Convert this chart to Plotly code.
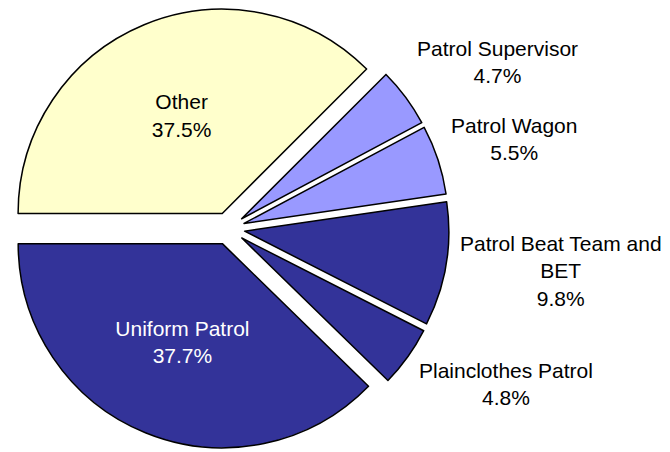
import math
import plotly.graph_objects as go

labels = ["Other", "Patrol Supervisor", "Patrol Wagon", "Patrol Beat Team and BET",
          "Plainclothes Patrol", "Uniform Patrol"]
display_labels = ["Other", "Patrol Supervisor", "Patrol Wagon", "Patrol Beat Team and<br>BET",
                  "Plainclothes Patrol", "Uniform Patrol"]
values = [37.5, 4.7, 5.5, 9.8, 4.8, 37.7]
colors = ["#FFFFCC", "#9999FF", "#9999FF", "#333399", "#333399", "#333399"]
inside = [True, False, False, False, False, True]
text_colors = ["black", "black", "black", "black", "black", "white"]

W, H = 670, 452
FONT = "Arial, Liberation Sans, sans-serif"
FS = 21
PULL = 0.08
ROT = -90  # first slice starts at 9 o'clock, clockwise

# pie box (figure pixels)
dom_x = [0, 441 / W]
dom_y = [11 / H, 1]
box_w = W * (dom_x[1] - dom_x[0])
box_h = H * (dom_y[1] - dom_y[0])
r = min(box_w, box_h) / 2 / (1 + PULL)
cx = W * (dom_x[0] + dom_x[1]) / 2
cy = H * (1 - (dom_y[0] + dom_y[1]) / 2)

total = sum(values)
pct_text = [f"{v / total * 100:.1f}%" for v in values]
slice_text = [f"{lab}<br>{p}" for lab, p in zip(display_labels, pct_text)]

fig = go.Figure(go.Pie(
    labels=labels,
    values=values,
    text=slice_text,
    textinfo="text",
    textposition=["inside" if i else "none" for i in inside],
    sort=False,
    direction="clockwise",
    rotation=ROT,
    pull=[PULL] * len(values),
    marker=dict(colors=colors, line=dict(color="black", width=1.5)),
    insidetextfont=dict(color=text_colors, size=FS, family=FONT),
    insidetextorientation="horizontal",
    domain=dict(x=dom_x, y=dom_y),
    showlegend=False,
    hoverinfo="label+percent",
))

# outside labels for the small slices, placed along each slice's mid-angle
cum = 0.0
for lab, v, txt, ins in zip(display_labels, values, slice_text, inside):
    mid = math.radians(ROT + 360 * (cum + v / 2) / total)
    cum += v
    if ins:
        continue
    R = r * (1 + PULL) + 14
    px = cx + R * math.sin(mid)
    py = cy - R * math.cos(mid)
    n_lines = txt.count("<br>") + 1
    hh = n_lines * 29
    py += -math.cos(mid) * (hh / 2 + 10) - 4
    fig.add_annotation(
        x=px / W, y=1 - py / H, xref="paper", yref="paper",
        text=txt, showarrow=False, xanchor="left", yanchor="middle",
        align="center", borderpad=0, borderwidth=0,
        font=dict(family=FONT, size=FS, color="black"),
    )

fig.update_layout(
    width=W, height=H,
    margin=dict(l=0, r=0, t=0, b=0),
    paper_bgcolor="white",
    plot_bgcolor="white",
    font=dict(family=FONT, size=FS, color="black"),
)

fig.write_html("out.html")
